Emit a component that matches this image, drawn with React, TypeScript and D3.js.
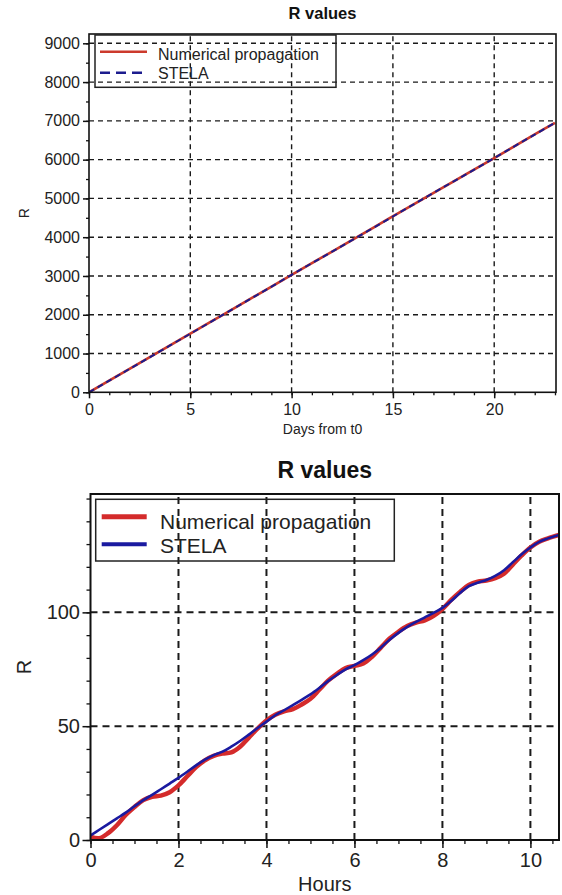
import { useEffect, useRef } from "react";
import * as d3 from "d3";

// ---- top panel: R over days (both series sit on top of each other)
const dayPoints = [0, 2, 4, 6, 8, 10, 12, 14, 16, 18, 20, 22, 23];
const dayNumerical = [0, 605, 1210, 1815, 2420, 3030, 3630, 4235, 4840, 5440, 6040, 6650, 6950];
const dayStela = [0, 604, 1208, 1812, 2418, 3028, 3628, 4232, 4838, 5440, 6040, 6648, 6948];
const dayXTicks = [0, 5, 10, 15, 20];
const dayYTicks = [0, 1000, 2000, 3000, 4000, 5000, 6000, 7000, 8000, 9000];

// ---- bottom panel: R over the first hours
const hourPoints = [
  0, 0.2, 0.4, 0.6, 0.8, 1.0, 1.2, 1.4, 1.6, 1.8, 2.0, 2.2, 2.4, 2.6, 2.8, 3.0, 3.2, 3.4, 3.6, 3.8,
  4.0, 4.2, 4.4, 4.6, 4.8, 5.0, 5.2, 5.4, 5.6, 5.8, 6.0, 6.2, 6.4, 6.6, 6.8, 7.0, 7.2, 7.4, 7.6, 7.8,
  8.0, 8.2, 8.4, 8.6, 8.8, 9.0, 9.2, 9.4, 9.6, 9.8, 10.0, 10.2, 10.4, 10.65,
];
const hourNumerical = [
  1.5, 0.8, 3, 6.5, 11, 14.5, 17.5, 19, 19.5, 21, 24, 28, 32, 35, 37, 38, 38.5, 41, 45, 49,
  52.5, 55, 56.5, 57.5, 59.5, 62, 66, 70, 73, 75.5, 76.5, 77.5, 80.5, 84.5, 88.5, 91.5, 94, 95.5, 96.5, 98.5,
  101.5, 105.5, 109, 112, 113.5, 114, 115, 117, 121, 125, 128.5, 131, 132.5, 134,
];
const hourStela = [
  2, 4.5, 7, 9.5, 12, 14.8, 17.5, 19.8, 22.3, 24.8, 27.3, 30, 32.8, 35.3, 37.3, 38.8, 41, 43.5, 46.3, 49.2,
  52, 54.8, 57, 59.3, 61.6, 64, 66.8, 69.8, 72.5, 75, 76.8, 79, 81.5, 84.5, 88, 91, 93.6, 95.8, 97.8, 99.8,
  102, 105, 108.5, 111.5, 113, 114.2, 116, 118.5, 122, 125.5, 128.5, 131, 132.5, 134,
];
const hourXTicks = [0, 2, 4, 6, 8, 10];
const hourYTicks = [0, 50, 100];

const FONT = "'Liberation Sans', Arial, Helvetica, sans-serif";

type Series = { name: string; x: number[]; y: number[]; color: string; width: number; dash?: string; legendWidth: number; legendDash?: string };

type Panel = {
  box: { left: number; right: number; top: number; bottom: number };
  xDomain: [number, number];
  yDomain: [number, number];
  xTicks: number[];
  yTicks: number[];
  xMinorStep: number;
  yMinorStep: number;
  xLabel: string;
  title: string;
  series: Series[];
  font: { tick: number; label: number; title: number; legend: number };
  grid: { dash: string; width: number };
  tick: { major: number; minor: number; axisWidth: number };
  pos: {
    xTickPad: number;
    yTickPad: number;
    xLabelY: number;
    yLabelX: number;
    titleY: number;
    legend: { x0: number; y0: number; x1: number; y1: number; lineX0: number; lineX1: number; rows: number[]; textX: number; baselines: number[] };
  };
};

function drawPanel(svg: d3.Selection<SVGSVGElement, unknown, null, undefined>, p: Panel, id: string) {
  const { left, right, top, bottom } = p.box;
  const x = d3.scaleLinear().domain(p.xDomain).range([left, right]);
  const y = d3.scaleLinear().domain(p.yDomain).range([bottom, top]);
  const g = svg.append("g").attr("font-family", FONT);

  g.append("clipPath").attr("id", id).append("rect")
    .attr("x", left).attr("y", top).attr("width", right - left).attr("height", bottom - top);

  // grid
  const grid = g.append("g").attr("stroke", "#1a1a1a").attr("stroke-width", p.grid.width).attr("stroke-dasharray", p.grid.dash);
  p.xTicks.filter((t) => t > p.xDomain[0]).forEach((t) => {
    grid.append("line").attr("x1", x(t)).attr("x2", x(t)).attr("y1", bottom).attr("y2", top);
  });
  p.yTicks.filter((t) => t > p.yDomain[0]).forEach((t) => {
    grid.append("line").attr("y1", y(t)).attr("y2", y(t)).attr("x1", left).attr("x2", right);
  });

  // series
  const lines = g.append("g").attr("clip-path", `url(#${id})`);
  p.series.forEach((s) => {
    const pts = s.x.map((v, i) => [v, s.y[i]] as [number, number]);
    const line = d3.line<[number, number]>().x((d) => x(d[0])).y((d) => y(d[1])).curve(d3.curveCatmullRom);
    lines.append("path").datum(pts).attr("d", line).attr("fill", "none")
      .attr("stroke", s.color).attr("stroke-width", s.width)
      .attr("stroke-linejoin", "round").attr("stroke-dasharray", s.dash ?? null);
  });

  // frame
  g.append("rect").attr("x", left).attr("y", top).attr("width", right - left).attr("height", bottom - top)
    .attr("fill", "none").attr("stroke", "#111").attr("stroke-width", p.tick.axisWidth);

  // minor ticks
  const xMinor = d3.range(p.xDomain[0], p.xDomain[1] + 1e-9, p.xMinorStep);
  const yMinor = d3.range(p.yDomain[0], p.yDomain[1] + 1e-9, p.yMinorStep);
  g.append("g").attr("transform", `translate(0,${bottom})`)
    .call(d3.axisBottom(x).tickValues(xMinor).tickSize(p.tick.minor).tickFormat(() => ""))
    .call((a) => a.select(".domain").remove())
    .selectAll("line").attr("stroke", "#111").attr("stroke-width", 1.3);
  g.append("g").attr("transform", `translate(${left},0)`)
    .call(d3.axisLeft(y).tickValues(yMinor).tickSize(p.tick.minor).tickFormat(() => ""))
    .call((a) => a.select(".domain").remove())
    .selectAll("line").attr("stroke", "#111").attr("stroke-width", 1.3);

  // major ticks + labels
  const xa = g.append("g").attr("transform", `translate(0,${bottom})`)
    .call(d3.axisBottom(x).tickValues(p.xTicks).tickSize(p.tick.major).tickPadding(p.pos.xTickPad).tickFormat(d3.format("d")));
  const ya = g.append("g").attr("transform", `translate(${left},0)`)
    .call(d3.axisLeft(y).tickValues(p.yTicks).tickSize(p.tick.major).tickPadding(p.pos.yTickPad).tickFormat(d3.format("d")));
  [xa, ya].forEach((a) => {
    a.select(".domain").remove();
    a.selectAll("line").attr("stroke", "#111").attr("stroke-width", 1.5);
    a.selectAll("text").attr("fill", "#222").attr("font-size", p.font.tick).attr("font-family", FONT);
  });

  // axis labels and title
  const cx = (left + right) / 2;
  g.append("text").attr("x", cx).attr("y", p.pos.xLabelY).attr("text-anchor", "middle")
    .attr("font-size", p.font.label).attr("fill", "#222").text(p.xLabel);
  g.append("text").attr("transform", `translate(${p.pos.yLabelX},${(top + bottom) / 2}) rotate(-90)`)
    .attr("text-anchor", "middle").attr("font-size", p.font.label).attr("fill", "#222").text("R");
  g.append("text").attr("x", cx).attr("y", p.pos.titleY).attr("text-anchor", "middle")
    .attr("font-size", p.font.title).attr("font-weight", "bold").attr("fill", "#111").text(p.title);

  // legend (transparent, grid shows through)
  const L = p.pos.legend;
  const lg = g.append("g");
  lg.append("rect").attr("x", L.x0).attr("y", L.y0).attr("width", L.x1 - L.x0).attr("height", L.y1 - L.y0)
    .attr("fill", "none").attr("stroke", "#222").attr("stroke-width", 1.5);
  p.series.forEach((s, i) => {
    lg.append("line").attr("x1", L.lineX0).attr("x2", L.lineX1).attr("y1", L.rows[i]).attr("y2", L.rows[i])
      .attr("stroke", s.color).attr("stroke-width", s.legendWidth).attr("stroke-dasharray", s.legendDash ?? null);
    lg.append("text").attr("x", L.textX).attr("y", L.baselines[i]).attr("font-size", p.font.legend)
      .attr("fill", "#222").text(s.name);
  });
}

const topPanel: Panel = {
  box: { left: 89, right: 556, top: 34, bottom: 392.3 },
  xDomain: [0, 23.05],
  yDomain: [0, 9240],
  xTicks: dayXTicks,
  yTicks: dayYTicks,
  xMinorStep: 1,
  yMinorStep: 500,
  xLabel: "Days from t0",
  title: "R values",
  series: [
    { name: "Numerical propagation", x: dayPoints, y: dayNumerical, color: "#cc3a2c", width: 2.6, legendWidth: 2.5 },
    { name: "STELA", x: dayPoints, y: dayStela, color: "#1c1c8e", width: 2, dash: "6,4", legendWidth: 2.5, legendDash: "10,6" },
  ],
  font: { tick: 16, label: 14, title: 16.5, legend: 16 },
  grid: { dash: "5,4", width: 1.4 },
  tick: { major: 6, minor: 3, axisWidth: 1.6 },
  pos: {
    xTickPad: 5,
    yTickPad: 3,
    xLabelY: 434,
    yLabelX: 29,
    titleY: 19,
    legend: { x0: 95, y0: 35, x1: 336, y1: 87.3, lineX0: 100, lineX1: 147, rows: [51.7, 72.7], textX: 158, baselines: [59.5, 78.5] },
  },
};

const bottomPanel: Panel = {
  box: { left: 90.5, right: 559, top: 494, bottom: 840 },
  xDomain: [0, 10.65],
  yDomain: [0, 152],
  xTicks: hourXTicks,
  yTicks: hourYTicks,
  xMinorStep: 0.5,
  yMinorStep: 10,
  xLabel: "Hours",
  title: "R values",
  series: [
    { name: "Numerical propagation", x: hourPoints, y: hourNumerical, color: "#d42b2b", width: 4.5, legendWidth: 5 },
    { name: "STELA", x: hourPoints, y: hourStela, color: "#1a1aa0", width: 2.6, legendWidth: 4 },
  ],
  font: { tick: 20, label: 20, title: 23, legend: 21 },
  grid: { dash: "7,5", width: 2 },
  tick: { major: 8, minor: 4, axisWidth: 2 },
  pos: {
    xTickPad: 5,
    yTickPad: 2.5,
    xLabelY: 891,
    yLabelX: 31,
    titleY: 478,
    legend: { x0: 95.7, y0: 499.3, x1: 394.3, y1: 561, lineX0: 101.7, lineX1: 146.7, rows: [516.7, 544.3], textX: 160, baselines: [529, 552.7] },
  },
};

export default function App() {
  const ref = useRef<SVGSVGElement>(null);
  useEffect(() => {
    const svg = d3.select(ref.current as SVGSVGElement);
    svg.selectAll("*").remove();
    drawPanel(svg, topPanel, "clip-top");
    drawPanel(svg, bottomPanel, "clip-bottom");
  }, []);
  return (
    <svg
      ref={ref}
      width={562}
      height={895}
      style={{ position: "absolute", left: 0, top: 0, background: "#fff" }}
    />
  );
}
